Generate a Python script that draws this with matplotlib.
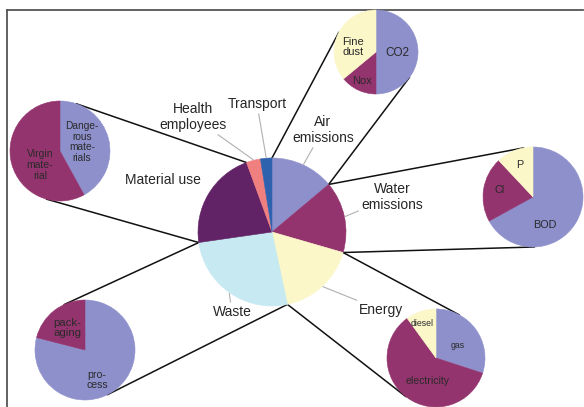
import numpy as np
import matplotlib
matplotlib.use("Agg")
import matplotlib.pyplot as plt

plt.rcParams['font.family'] = ['Liberation Sans', 'DejaVu Sans']

# main pie (share of impact, %)
main_labels = ["Air\nemissions", "Water\nemissions", "Energy", "Waste",
               "Material use", "Health\nemployees", "Transport"]
main_values = [13.9, 15.6, 17.2, 26.1, 21.7, 3.1, 2.5]
main_colors = ["#8e90cc", "#94346e", "#fbf7c9", "#c7e9f1",
               "#612266", "#f07f7f", "#2f62ae"]

# breakdown pies
air_labels = ["CO2", "Nox", "Fine\ndust"]
air_values = [50, 14, 36]
water_labels = ["BOD", "Cl", "P"]
water_values = [67, 21, 12]
energy_labels = ["gas", "electricity", "diesel"]
energy_values = [30, 60, 10]
waste_labels = ["pro-\ncess", "pack-\naging"]
waste_values = [79, 21]
material_labels = ["Dange-\nrous\nmate-\nrials", "Virgin\nmate-\nrial"]
material_values = [42, 58]

sub_colors = ["#8e90cc", "#94346e", "#fbf7c9"]

W, H = 584, 407
MAIN_C = (272, 175)
MAIN_R = 74

# layout of the main labels (pixel position, leader line or not)
main_text_pos = [(323, 277), (392, 210), (381, 97), (232, 95),
                 (163, 227), (193, 290), (257, 303)]
main_leader = [True, True, True, True, False, True, True]

# layout of the breakdown pies
subs = [
    dict(labels=air_labels, values=air_values, idx=0, center=(376, 355), r=42,
         offs=[(21, -1), (-14, -29), (-23, 5)], fs=[8.5, 8, 8]),
    dict(labels=material_labels, values=material_values, idx=4, center=(60, 256), r=50,
         offs=[(22, 9), (-20, -14)], fs=[7.3, 7.5]),
    dict(labels=water_labels, values=water_values, idx=1, center=(533, 210), r=50,
         offs=[(12, -28), (-33, 7), (-13, 32)], fs=[7.8, 7.8, 7.8]),
    dict(labels=waste_labels, values=waste_values, idx=3, center=(85, 57), r=50,
         offs=[(12, -30), (-18, 22)], fs=[7.6, 8.2]),
    dict(labels=energy_labels, values=energy_values, idx=2, center=(436, 49), r=49,
         offs=[(22, 12), (-8, -23), (-14, 35)], fs=[6.3, 7.6, 6.3]),
]


def tangent_point(p, c, r, sign):
    p = np.asarray(p, float)
    c = np.asarray(c, float)
    d = c - p
    dist = np.hypot(*d)
    a = sign * np.arcsin(r / dist)
    u = d / dist
    v = np.array([u[0] * np.cos(a) - u[1] * np.sin(a),
                  u[0] * np.sin(a) + u[1] * np.cos(a)])
    return p + np.sqrt(dist ** 2 - r ** 2) * v


def crosses(a, b, c, d):
    def ccw(p, q, s):
        return (s[1] - p[1]) * (q[0] - p[0]) > (q[1] - p[1]) * (s[0] - p[0])
    return ccw(a, c, d) != ccw(b, c, d) and ccw(a, b, c) != ccw(a, b, d)


def on_circle(c, r, ang):
    t = np.radians(ang)
    return np.array([c[0] + r * np.cos(t), c[1] + r * np.sin(t)])


fig = plt.figure(figsize=(W / 100, H / 100), dpi=100)

frame = fig.add_axes([7 / W, 0, 1 - 8 / W, 397 / H])
frame.set_xticks([])
frame.set_yticks([])
frame.patch.set_alpha(0)
for side in ["right", "bottom"]:
    frame.spines[side].set_visible(False)
for side in ["top", "left"]:
    frame.spines[side].set_color("#555555")
    frame.spines[side].set_linewidth(1.3)

ax = fig.add_axes([0, 0, 1, 1])
ax.patch.set_alpha(0)

wedges, _ = ax.pie(main_values, colors=main_colors, startangle=90,
                   counterclock=False, center=MAIN_C, radius=MAIN_R,
                   wedgeprops=dict(linewidth=0))
for w in wedges:
    w.set_edgecolor(w.get_facecolor())
    w.set_linewidth(0.4)

for w, lab, pos, lead in zip(wedges, main_labels, main_text_pos, main_leader):
    mid = (w.theta1 + w.theta2) / 2
    xy = on_circle(MAIN_C, MAIN_R * 1.01, mid)
    ax.annotate(lab, xy=xy, xytext=pos, ha="center", va="center",
                fontsize=10, color="#262626", linespacing=1.15,
                arrowprops=dict(arrowstyle="-", color="#b0b0b0", lw=0.8,
                                shrinkA=0, shrinkB=0) if lead else None)

for s in subs:
    sw, _ = ax.pie(s["values"], colors=sub_colors[:len(s["values"])],
                   startangle=90, counterclock=False,
                   center=s["center"], radius=s["r"],
                   wedgeprops=dict(linewidth=0))
    for w in sw:
        w.set_edgecolor(w.get_facecolor())
        w.set_linewidth(0.4)
    cx, cy = s["center"]
    for lab, (dx, dy), fs in zip(s["labels"], s["offs"], s["fs"]):
        ax.text(cx + dx, cy + dy, lab, ha="center", va="center",
                fontsize=fs, color="#2a2a2a", linespacing=1.1)

    # connector lines from the slice of the main pie
    w = wedges[s["idx"]]
    p1 = on_circle(MAIN_C, MAIN_R, w.theta1)
    p2 = on_circle(MAIN_C, MAIN_R, w.theta2)
    t1 = tangent_point(p1, s["center"], s["r"], 1)
    t2 = tangent_point(p2, s["center"], s["r"], -1)
    if crosses(p1, t1, p2, t2):
        t1 = tangent_point(p1, s["center"], s["r"], -1)
        t2 = tangent_point(p2, s["center"], s["r"], 1)
    for p, t in [(p1, t1), (p2, t2)]:
        ax.plot([p[0], t[0]], [p[1], t[1]], color="#111111", lw=1.1,
                zorder=0.5, solid_capstyle="round")

ax.set_xlim(0, W)
ax.set_ylim(0, H)
ax.set_aspect("equal")
ax.axis("off")

fig.savefig("out.png", dpi=100)
